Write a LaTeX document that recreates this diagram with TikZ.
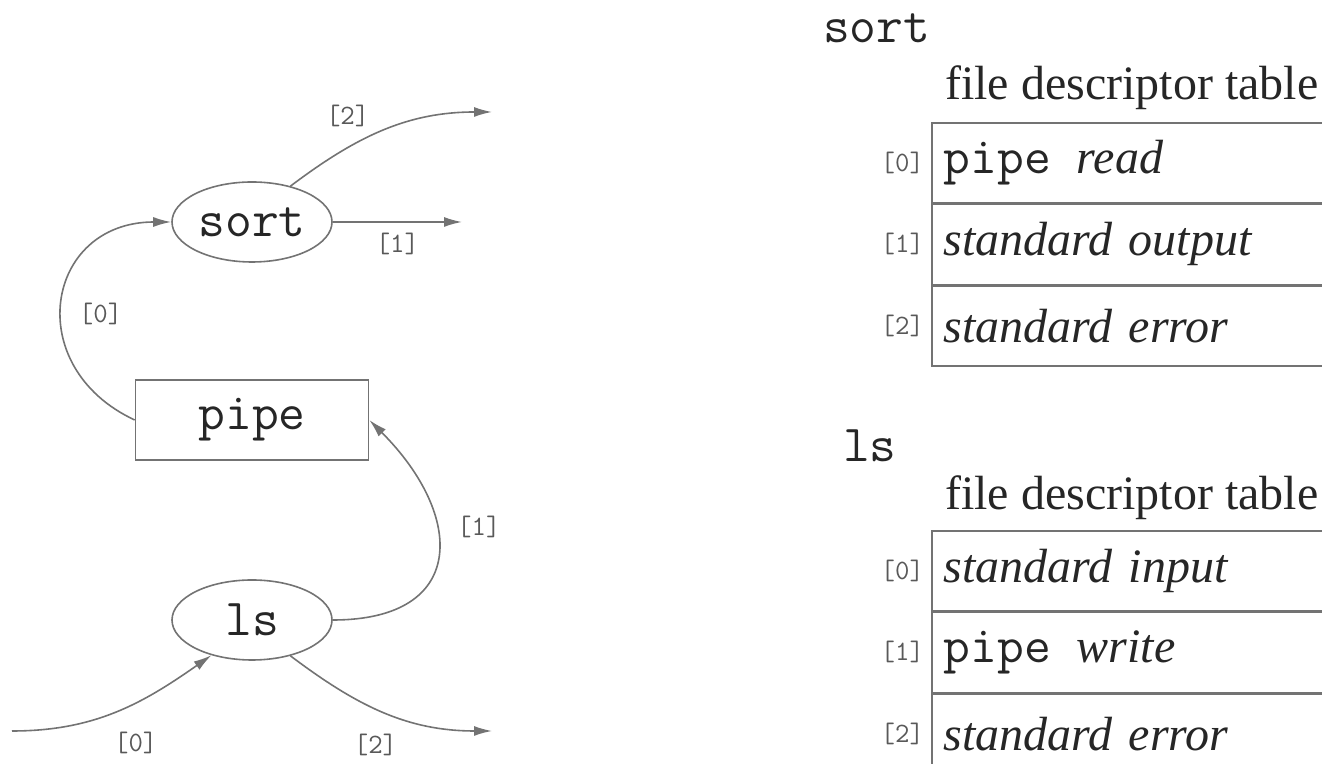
\documentclass[tikz,border=0pt]{standalone}
\usepackage{fontspec}
\setmainfont{Liberation Serif}
\usetikzlibrary{positioning,arrows.meta,shapes.geometric}

\begin{document}
\begin{tikzpicture}[x=0.5pt,y=0.5pt,text=black!85,font=\fontsize{24}{28}\selectfont]
    \tikzstyle{proc}=[draw=black!55, line width=0.8pt, ellipse, minimum width=80pt, minimum height=40pt, inner sep=0pt, font=\fontsize{26}{30}\selectfont\ttfamily, on grid]
    \tikzstyle{buf}=[draw=black!55, line width=0.8pt, rectangle, minimum width=116.5pt, minimum height=40pt, inner sep=0pt, font=\fontsize{26}{30}\selectfont\ttfamily, on grid]
    \tikzstyle{fd}=[font=\fontsize{14}{16}\selectfont\ttfamily, text=black!65]
    \tikzstyle{conn}=[draw=black!55, line width=0.8pt, -{Latex[length=9pt,width=5pt]}]
    \tikzstyle{fdrow}=[draw=black!55, line width=0.8pt, minimum height=40pt, text width=198pt, inner xsep=6pt, align=left]
    \useasboundingbox (0,0) rectangle (1322,764);

    % processes and the pipe
    \node[proc] (sort) at (252,542) {sort};
    \node[buf,below=99pt of sort] (pipe) {pipe};
    \node[proc,below=100pt of pipe] (ls) {ls};

    \coordinate (sortout) at (462,542);
    \coordinate (sorterr) at (492,652);
    \coordinate (lsin) at (12,33);
    \coordinate (lserr) at (492,33);

    \draw[conn] (pipe.west) to[out=155,in=180,looseness=1.6] node[fd,pos=0.45,right=5pt] {[0]} (sort.west);
    \draw[conn] (sort.east) -- node[fd,below=2pt] {[1]} (sortout);
    \draw[conn] (sort.43) to[out=37,in=180] node[fd,pos=0.3,above=7pt] {[2]} (sorterr);
    \draw[conn] (ls.east) to[out=0,in=-45,looseness=1.7] node[fd,pos=0.62,right=7pt] {[1]} (pipe.east);
    \draw[conn] (lsin) to[out=0,in=-145] node[fd,pos=0.6,below=11pt] {[0]} (ls.221);
    \draw[conn] (ls.-43) to[out=-37,in=180] node[fd,pos=0.45,below=9pt] {[2]} (lserr);

    % sort table
    \node[anchor=base west,font=\fontsize{26}{30}\selectfont\ttfamily] (sortname) at (816,721) {sort};
    \node[anchor=base west] (sorttitle) at (938,664) {file descriptor table};
    \node[fdrow,anchor=north west] (sortfd0) at (931,642) {\texttt{\fontsize{26}{30}\selectfont pipe}\hspace{13pt}\textit{read}};
    \node[fdrow,below=0pt of sortfd0] (sortfd1) {\textit{standard output}};
    \node[fdrow,below=0pt of sortfd1] (sortfd2) {\textit{standard error}};
    \node[fd,left=0pt of sortfd0] {[0]};
    \node[fd,left=0pt of sortfd1] {[1]};
    \node[fd,left=0pt of sortfd2] {[2]};

    % ls table
    \node[anchor=base west,font=\fontsize{26}{30}\selectfont\ttfamily] (lsname) at (836,302) {ls};
    \node[anchor=base west] (lstitle) at (938,254) {file descriptor table};
    \node[fdrow,anchor=north west] (lsfd0) at (931,234) {\textit{standard input}};
    \node[fdrow,below=0pt of lsfd0] (lsfd1) {\texttt{\fontsize{26}{30}\selectfont pipe}\hspace{13pt}\textit{write}};
    \node[fdrow,below=0pt of lsfd1] (lsfd2) {\textit{standard error}};
    \node[fd,left=0pt of lsfd0] {[0]};
    \node[fd,left=0pt of lsfd1] {[1]};
    \node[fd,left=0pt of lsfd2] {[2]};
\end{tikzpicture}
\end{document}
